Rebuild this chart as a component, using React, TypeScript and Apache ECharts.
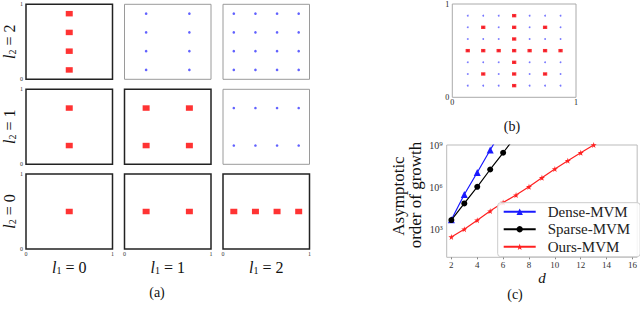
import React, { useEffect, useRef } from 'react';
import * as echarts from 'echarts';

// ---- data ----
const levels = [0, 1, 2];
const levelPoints: number[][] = [[0.5], [0.25, 0.75], [0.125, 0.375, 0.625, 0.875]];
const maxLevelSum = 2;
const fullGridPoints = [0.125, 0.25, 0.375, 0.5, 0.625, 0.75, 0.875];

const dDense = [2, 3, 4, 5, 6];
const denseVals = [4700, 300000, 11000000, 440000000, 16000000000];
const dSparse = [2, 3, 4, 5, 6, 7];
const sparseVals = [4500, 69000, 1050000, 18000000, 280000000, 4500000000];
const dOurs = [2, 3, 4, 5, 6, 7, 8, 9, 10, 11, 12, 13];
const oursVals = [280, 1000, 4400, 19500, 80000, 270000, 1050000, 4600000, 19500000, 76000000, 280000000, 1000000000];
const dTicks = [2, 4, 6, 8, 10, 12, 14, 16];
const seriesNames = ['Dense-MVM', 'Sparse-MVM', 'Ours-MVM'];

const SERIF = 'Liberation Serif';
const STAR = 'path://M50,0 L61,35 L98,35 L68,57 L79,91 L50,70 L21,91 L32,57 L2,35 L39,35 Z';
const SUP: Record<number, string> = { 3: '³', 6: '⁶', 9: '⁹' };

function buildOption() {
  const grid: any[] = [];
  const xAxis: any[] = [];
  const yAxis: any[] = [];
  const series: any[] = [];
  const graphic: any[] = [];

  const colLeft = [26, 124.5, 223];
  const rowTop: Record<number, number> = { 2: 4.3, 1: 89.3, 0: 174 };
  const pw = 86.5;
  const ph = 75;

  levels.forEach((l2) => {
    levels.forEach((l1) => {
      const active = l1 + l2 <= maxLevelSum;
      const gi = grid.length;
      grid.push({
        left: colLeft[l1], top: rowTop[l2], width: pw, height: ph,
        show: true, backgroundColor: '#fff',
        borderColor: active ? '#222' : '#9a9a9a', borderWidth: active ? 1.5 : 1,
      });
      xAxis.push({
        gridIndex: gi, type: 'value', min: 0, max: 1, interval: 1,
        axisLine: { show: false }, axisTick: { show: false }, splitLine: { show: false },
        axisLabel: { show: l2 === 0, fontSize: 6, margin: 2, color: '#333', fontFamily: SERIF },
      });
      yAxis.push({
        gridIndex: gi, type: 'value', min: 0, max: 1, interval: 1,
        axisLine: { show: false }, axisTick: { show: false }, splitLine: { show: false },
        axisLabel: { show: l1 === 0, fontSize: 6, margin: 3, color: '#333', fontFamily: SERIF },
      });
      const pts: number[][] = [];
      levelPoints[l1].forEach((x) => levelPoints[l2].forEach((y) => pts.push([x, y])));
      series.push({
        type: 'scatter', xAxisIndex: gi, yAxisIndex: gi, data: pts,
        symbol: active ? 'rect' : 'circle',
        symbolSize: active ? [7, 5.5] : 2.6,
        itemStyle: { color: active ? '#ff0000' : '#3a3aff' },
        silent: true,
      });
    });
  });

  // (b) combined grid
  const gb = grid.length;
  grid.push({ left: 452.3, top: 3.3, width: 123.7, height: 94, show: true, borderColor: '#aaa', borderWidth: 1 });
  xAxis.push({
    gridIndex: gb, type: 'value', min: 0, max: 1, interval: 1,
    axisLine: { show: false }, axisTick: { show: false }, splitLine: { show: false },
    axisLabel: { fontSize: 8, margin: 1, color: '#222', fontFamily: SERIF },
  });
  yAxis.push({
    gridIndex: gb, type: 'value', min: 0, max: 1, interval: 1,
    axisLine: { show: false }, axisTick: { show: false }, splitLine: { show: false },
    axisLabel: { fontSize: 8, margin: 3, color: '#222', fontFamily: SERIF },
  });
  const fullPts: number[][] = [];
  fullGridPoints.forEach((x) => fullGridPoints.forEach((y) => fullPts.push([x, y])));
  series.push({
    type: 'scatter', xAxisIndex: gb, yAxisIndex: gb, data: fullPts,
    symbol: 'circle', symbolSize: 1.8, itemStyle: { color: '#5555ff' }, silent: true,
  });
  const sparsePts: number[][] = [];
  levels.forEach((l2) => levels.forEach((l1) => {
    if (l1 + l2 <= maxLevelSum) {
      levelPoints[l1].forEach((x) => levelPoints[l2].forEach((y) => sparsePts.push([x, y])));
    }
  }));
  series.push({
    type: 'scatter', xAxisIndex: gb, yAxisIndex: gb, data: sparsePts,
    symbol: 'rect', symbolSize: [4.3, 3.4], itemStyle: { color: '#ff0000' }, silent: true,
  });

  // (c) growth
  const gc = grid.length;
  grid.push({ left: 446.7, top: 145, width: 191, height: 112.3, show: true, borderColor: '#bbb', borderWidth: 1 });
  xAxis.push({
    gridIndex: gc, type: 'value', min: 1.64, max: 16.36,
    name: 'd', nameLocation: 'middle', nameGap: 13,
    nameTextStyle: { fontFamily: SERIF, fontStyle: 'italic', fontSize: 15, color: '#111' },
    axisLine: { show: false }, splitLine: { show: false },
    axisTick: { show: true, length: 2, lineStyle: { color: '#888' }, customValues: dTicks },
    axisLabel: { fontSize: 9, margin: 3, color: '#333', fontFamily: SERIF, customValues: dTicks },
  });
  yAxis.push({
    gridIndex: gc, type: 'log', logBase: 10, min: 10, max: 1e9,
    axisLine: { show: false }, splitLine: { show: false },
    axisTick: { show: false },
    axisLabel: {
      fontSize: 10, margin: 4, color: '#333', fontFamily: SERIF,
      formatter: (v: number) => {
        const e = Math.round(Math.log10(v));
        return SUP[e] ? '10' + SUP[e] : '';
      },
    },
  });
  const lineCfg = [
    { name: seriesNames[0], d: dDense, v: denseVals, color: '#1a1aff', symbol: 'triangle', size: 7 },
    { name: seriesNames[1], d: dSparse, v: sparseVals, color: '#000000', symbol: 'circle', size: 6 },
    { name: seriesNames[2], d: dOurs, v: oursVals, color: '#ff2020', symbol: STAR, size: 6 },
  ];
  lineCfg.forEach((c) => {
    series.push({
      type: 'line', name: c.name, xAxisIndex: gc, yAxisIndex: gc,
      data: c.d.map((d, i) => [d, c.v[i]]),
      symbol: c.symbol, symbolSize: c.size, showSymbol: true, clip: true,
      lineStyle: { color: c.color, width: 1.2 }, itemStyle: { color: c.color },
    });
  });

  // texts
  const centersX = colLeft.map((l) => l + pw / 2);
  const labelRich = {
    i: { fontFamily: SERIF, fontStyle: 'italic', fontSize: 16, fill: '#111' },
    s: { fontFamily: SERIF, fontSize: 10, fill: '#111', verticalAlign: 'bottom', padding: [6, 0, 0, 0] },
    n: { fontFamily: SERIF, fontSize: 16, fill: '#111' },
  };
  levels.forEach((l1) => {
    graphic.push({
      type: 'text', x: centersX[l1], y: 267,
      style: { text: `{i|l}{s|1}{n| = ${l1}}`, align: 'center', verticalAlign: 'middle', rich: labelRich },
    });
  });
  levels.forEach((l2) => {
    graphic.push({
      type: 'text', x: 9, y: rowTop[l2] + ph / 2, rotation: Math.PI / 2,
      style: { text: `{i|l}{s|2}{n| = ${l2}}`, align: 'center', verticalAlign: 'middle', rich: labelRich },
    });
  });
  const captions = [
    { t: '(a)', x: 157, y: 292 },
    { t: '(b)', x: 512, y: 126 },
    { t: '(c)', x: 515, y: 294 },
  ];
  captions.forEach((c) => graphic.push({
    type: 'text', x: c.x, y: c.y,
    style: { text: c.t, align: 'center', verticalAlign: 'middle', fontFamily: SERIF, fontSize: 14, fill: '#111' },
  }));
  graphic.push({
    type: 'text', x: 398, y: 196, rotation: Math.PI / 2,
    style: { text: 'Asymptotic', align: 'center', verticalAlign: 'middle', fontFamily: SERIF, fontSize: 17, fill: '#111' },
  });
  graphic.push({
    type: 'text', x: 415, y: 195, rotation: Math.PI / 2,
    style: { text: 'order of growth', align: 'center', verticalAlign: 'middle', fontFamily: SERIF, fontSize: 17, fill: '#111' },
  });

  return {
    animation: false,
    textStyle: { fontFamily: SERIF },
    grid, xAxis, yAxis, series, graphic,
    legend: {
      data: seriesNames, orient: 'vertical', left: 497.7, top: 202.7,
      padding: [1.5, 10, 2.5, 5], itemWidth: 32, itemHeight: 8, itemGap: 2.5,
      borderColor: '#ccc', borderWidth: 1, borderRadius: 3,
      backgroundColor: 'rgba(255,255,255,0.85)', z: 10,
      textStyle: { fontFamily: SERIF, fontSize: 15, lineHeight: 13, color: '#222', padding: [0, 0, 0, 7] },
    },
  };
}

export default function App() {
  const ref = useRef<HTMLDivElement>(null);
  useEffect(() => {
    if (!ref.current) return;
    const chart = echarts.init(ref.current, undefined, { renderer: 'svg' });
    chart.setOption(buildOption() as any);
    return () => chart.dispose();
  }, []);
  return (
    <div
      ref={ref}
      style={{ position: 'fixed', left: 0, top: 0, width: 640, height: 318, background: '#fff' }}
    />
  );
}
